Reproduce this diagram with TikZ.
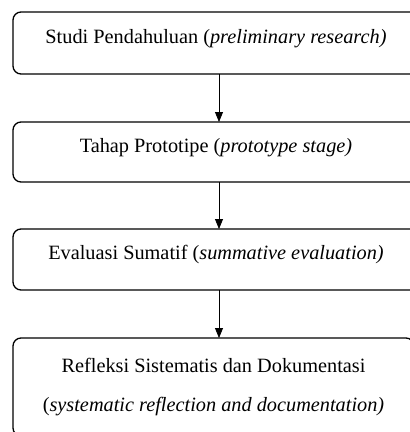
\documentclass[tikz,border=0pt]{standalone}
\usepackage{fontspec}
\setmainfont{Liberation Serif}
\usetikzlibrary{positioning,arrows.meta}
\newcommand{\colx}{216}
\newcommand{\arrowshift}{3pt}

\begin{document}
\begin{tikzpicture}[x=1pt, y=-1pt]
  \tikzset{stage/.style={draw, line width=1.3pt, rounded corners=8pt, inner sep=0pt, outer sep=0pt,
      minimum width=406pt, font=\fontsize{20.3}{23}\selectfont, text height=10pt, text depth=10pt}}
  \tikzset{flow/.style={line width=0.8pt, -{Triangle[length=10pt, width=8pt]}}}
  \useasboundingbox (0,0) rectangle (410,432);
  \clip (0,0) rectangle (410,432);
  \node[stage, minimum height=62pt] (studi) at (\colx, 43) {Studi Pendahuluan (\textit{preliminary research)}};
  \node[stage, minimum height=60pt] (prototipe) at (\colx, 152) {Tahap Prototipe (\textit{prototype stage)}};
  \node[stage, minimum height=61pt] (evaluasi) at (\colx, 259.5) {Evaluasi Sumatif (\textit{summative evaluation)}};
  \node[stage, minimum height=98pt, minimum width=401pt, align=center, text height=, text depth=,
      font=\fontsize{20.3}{39}\selectfont] (refleksi) at (213.5, 387)
      {Refleksi Sistematis dan Dokumentasi\\(\textit{systematic reflection and documentation)}};
  \draw[flow] ([xshift=\arrowshift]studi.south) -- ([xshift=\arrowshift]prototipe.north);
  \draw[flow] ([xshift=\arrowshift]prototipe.south) -- ([xshift=\arrowshift]evaluasi.north);
  \draw[flow] ([xshift=\arrowshift]evaluasi.south) -- ([xshift=5.5pt]refleksi.north);
\end{tikzpicture}
\end{document}
